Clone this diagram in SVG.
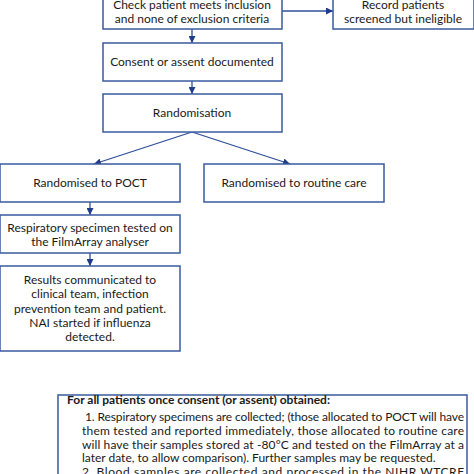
<svg xmlns="http://www.w3.org/2000/svg" width="474" height="474" viewBox="0 0 474 474">
<style>
.box{fill:#fff;stroke:#3a5ba0;stroke-width:1.5}
.t{font-family:Lato,"Liberation Sans",sans-serif;font-size:12px;fill:#1a1a1a;text-anchor:middle}
.b{font-family:Lato,"Liberation Sans",sans-serif;font-size:12px;fill:#1a1a1a}
.c{stroke:#2f4f9a;stroke-width:1.3;fill:none;marker-end:url(#ah)}
</style>
<defs>
<marker id="ah" viewBox="0 0 10 10" refX="10" refY="5" markerWidth="7" markerHeight="7" markerUnits="userSpaceOnUse" orient="auto">
<path d="M0,0 L10,5 L0,10 z" fill="#1f3c88"/>
</marker>
</defs>
<rect width="474" height="474" fill="#fff"/>
<g id="connectors">
<line class="c" x1="282" y1="11" x2="333" y2="11"/>
<line class="c" x1="192" y1="29" x2="192" y2="43"/>
<line class="c" x1="192" y1="81" x2="192" y2="94"/>
<line class="c" x1="192" y1="132" x2="94" y2="164"/>
<line class="c" x1="192" y1="132" x2="290" y2="164"/>
<line class="c" x1="90" y1="202" x2="90" y2="215"/>
<line class="c" x1="90" y1="253" x2="90" y2="266"/>
</g>
<g id="check">
<rect class="box" x="103" y="-10" width="179" height="39"/>
<text class="t" x="192" y="9">Check patient meets inclusion</text>
<text class="t" x="192" y="23">and none of exclusion criteria</text>
</g>
<g id="record">
<rect class="box" x="333" y="-10" width="141" height="39"/>
<text class="t" x="403" y="9">Record patients</text>
<text class="t" x="403" y="23">screened but ineligible</text>
</g>
<g id="consent">
<rect class="box" x="103" y="43" width="179" height="38"/>
<text class="t" x="192" y="66">Consent or assent documented</text>
</g>
<g id="randomisation">
<rect class="box" x="103" y="94" width="179" height="38"/>
<text class="t" x="192" y="117">Randomisation</text>
</g>
<g id="poct">
<rect class="box" x="0" y="164" width="180" height="38"/>
<text class="t" x="90" y="187">Randomised to POCT</text>
</g>
<g id="routine">
<rect class="box" x="204" y="164" width="180" height="38"/>
<text class="t" x="294" y="187">Randomised to routine care</text>
</g>
<g id="respiratory">
<rect class="box" x="0" y="215" width="180" height="38"/>
<text class="t" x="90" y="232">Respiratory specimen tested on</text>
<text class="t" x="90" y="246">the FilmArray analyser</text>
</g>
<g id="results">
<rect class="box" x="0" y="266" width="180" height="85"/>
<text class="t" x="90" y="284">Results communicated to</text>
<text class="t" x="90" y="298">clinical team, infection</text>
<text class="t" x="90" y="313">prevention team and patient.</text>
<text class="t" x="90" y="327">NAI started if influenza</text>
<text class="t" x="90" y="341">detected.</text>
</g>
<g id="allpatients">
<rect class="box" x="58" y="395" width="409" height="90"/>
<text class="b" x="67" y="404" font-weight="bold">For all patients once consent (or assent) obtained:</text>
<text class="b" x="85" y="421" textLength="379" lengthAdjust="spacing">1. Respiratory specimens are collected; (those allocated to POCT will have</text>
<text class="b" x="82" y="435" textLength="382" lengthAdjust="spacing">them tested and reported immediately, those allocated to routine care</text>
<text class="b" x="82" y="449" textLength="382" lengthAdjust="spacing">will have their samples stored at -80°C and tested on the FilmArray at a</text>
<text class="b" x="82" y="462">later date, to allow comparison). Further samples may be requested.</text>
<text class="b" x="82" y="476" textLength="382" lengthAdjust="spacing">2. Blood samples are collected and processed in the NIHR WTCRF</text>
<text class="b" x="82" y="490">laboratory and stored at -80°C pending further study.</text>
</g>
</svg>
